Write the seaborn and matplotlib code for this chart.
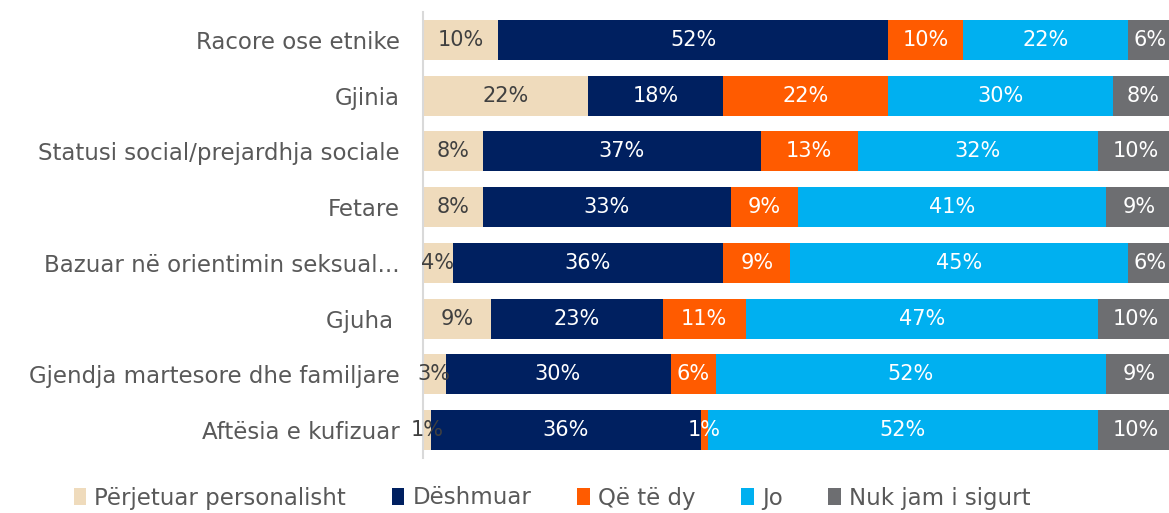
import numpy as np
import pandas as pd
import matplotlib
matplotlib.use("Agg")
import matplotlib.pyplot as plt
import seaborn as sns
from matplotlib.patches import Patch

categories = ["Racore ose etnike", "Gjinia", "Statusi social/prejardhja sociale", "Fetare",
              "Bazuar në orientimin seksual...", "Gjuha ", "Gjendja martesore dhe familjare",
              "Aftësia e kufizuar"]
series = ["Përjetuar personalisht", "Dëshmuar", "Që të dy", "Jo", "Nuk jam i sigurt"]
perjetuar = [10, 22, 8, 8, 4, 9, 3, 1]
deshmuar = [52, 18, 37, 33, 36, 23, 30, 36]
te_dy = [10, 22, 13, 9, 9, 11, 6, 1]
jo = [22, 30, 32, 41, 45, 47, 52, 52]
nuk_jam = [6, 8, 10, 9, 6, 10, 9, 10]

colors = ["#EFDBBC", "#002060", "#FF5B00", "#00B0F0", "#6D6E71"]
text_colors = ["#404040", "white", "white", "white", "white"]

sns.set_theme(style="white")
plt.rcParams['font.family'] = ['DejaVu Sans']

values = np.array([perjetuar, deshmuar, te_dy, jo, nuk_jam], dtype=float)
cum = np.cumsum(values, axis=0)

fig = plt.figure(figsize=(11.69, 5.13), dpi=100)
ax = fig.add_axes([423/1169, 1-458/513, (1173-423)/1169, 446/513])

for i in range(len(series) - 1, -1, -1):
    df = pd.DataFrame({"cat": categories, "val": cum[i]})
    sns.barplot(data=df, x="val", y="cat", orient="h", color=colors[i],
                saturation=1, width=0.72, ax=ax, linewidth=0)

for i in range(len(series)):
    for j, cat in enumerate(categories):
        v = values[i, j]
        center = cum[i, j] - v / 2
        ax.text(center, j, f"{int(v)}%", ha="center", va="center",
                color=text_colors[i], fontsize=15)

ax.set_xlim(0, 100)
ax.set_ylim(len(categories) - 0.5, -0.5)
ax.set_xlabel("")
ax.set_ylabel("")
ax.set_xticks([])
ax.tick_params(axis="y", length=0, pad=16.5, labelsize=16.5, labelcolor="#595959")
for s in ["top", "right", "bottom"]:
    ax.spines[s].set_visible(False)
ax.spines["left"].set_color("#D9D9D9")
ax.spines["left"].set_linewidth(1.5)

handles = [Patch(facecolor=c, edgecolor="none") for c in colors]
fig.legend(handles, series, loc="center", bbox_to_anchor=(552/1169, 1-498/513), ncol=5,
           frameon=False, fontsize=16.5, handlelength=0.55, handleheight=0.8,
           handletextpad=0.35, columnspacing=2.0, labelcolor="#595959")

fig.savefig("out.png", dpi=100)
